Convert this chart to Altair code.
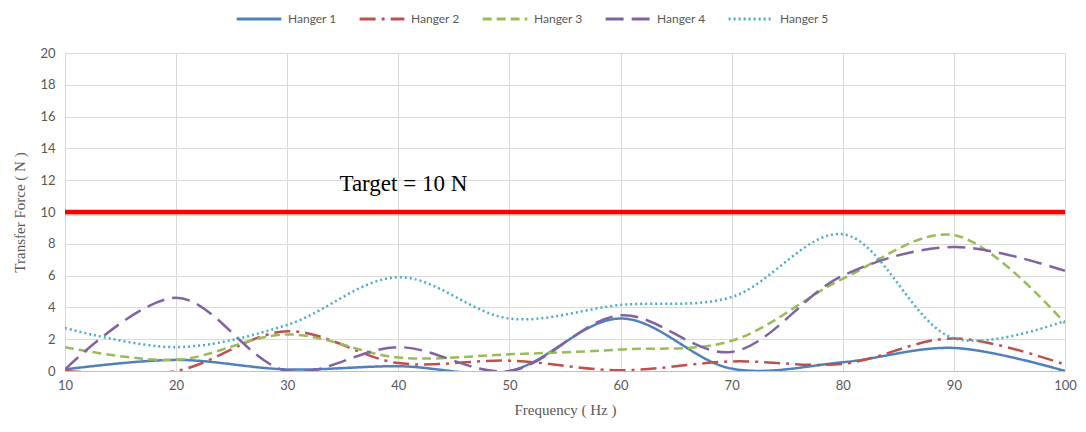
import altair as alt
import pandas as pd

freq = [10, 20, 30, 40, 50, 60, 70, 80, 90, 100]
hanger1 = [0.1, 0.7, 0.1, 0.3, 0.0, 3.3, 0.15, 0.55, 1.45, 0.0]
hanger2 = [0.0, 0.0, 2.5, 0.5, 0.65, 0.05, 0.6, 0.45, 2.05, 0.4]
hanger3 = [1.5, 0.7, 2.3, 0.85, 1.05, 1.35, 1.9, 5.8, 8.55, 3.0]
hanger4 = [0.1, 4.6, 0.0, 1.5, 0.0, 3.5, 1.2, 6.0, 7.8, 6.3]
hanger5 = [2.7, 1.5, 2.9, 5.9, 3.3, 4.15, 4.65, 8.6, 2.05, 3.15]
series_names = ["Hanger 1", "Hanger 2", "Hanger 3", "Hanger 4", "Hanger 5"]
series_colors = ["#4F81BD", "#C0504D", "#9BBB59", "#8064A2", "#4BACC6"]
series_dashes = [[1, 0], [16, 6, 3, 6], [9, 5], [18, 8], [2, 3]]
x_ticks = [10, 20, 30, 40, 50, 60, 70, 80, 90, 100]
y_ticks = [0, 2, 4, 6, 8, 10, 12, 14, 16, 18, 20]
target_value = 10
target_label = "Target = 10 N"

rows = []
for name, vals in zip(series_names, [hanger1, hanger2, hanger3, hanger4, hanger5]):
    for f, v in zip(freq, vals):
        rows.append({"Frequency": f, "Force": v, "Series": name})
df = pd.DataFrame(rows)

xscale = alt.Scale(domain=[10, 100], nice=False, zero=False)
yscale = alt.Scale(domain=[0, 20], nice=False)
xaxis = alt.Axis(values=x_ticks, title="Frequency ( Hz )")
yaxis = alt.Axis(values=y_ticks, title="Transfer Force ( N )")

legend_cfg = dict(title=None, orient="none", direction="horizontal",
                  legendX=170, legendY=-58, symbolType="stroke",
                  symbolSize=2000, symbolStrokeWidth=3,
                  labelFont="Lato", labelFontSize=12,
                  labelColor="#595959", columnPadding=16,
                  labelOffset=5, padding=0)

lines = alt.Chart(df).mark_line(
    interpolate="catmull-rom", strokeWidth=2.5, clip=True
).encode(
    x=alt.X("Frequency:Q", scale=xscale, axis=xaxis),
    y=alt.Y("Force:Q", scale=yscale, axis=yaxis),
    color=alt.Color("Series:N", scale=alt.Scale(domain=series_names, range=series_colors),
                    legend=alt.Legend(**legend_cfg)),
    strokeDash=alt.StrokeDash("Series:N",
                              scale=alt.Scale(domain=series_names, range=series_dashes),
                              legend=alt.Legend(**legend_cfg)),
)

target_df = pd.DataFrame({"Force": [target_value]})
shadow = alt.Chart(target_df).mark_rule(
    color="#888888", strokeWidth=4, opacity=0.3, yOffset=2
).encode(y=alt.Y("Force:Q", scale=yscale, axis=yaxis))
target = alt.Chart(target_df).mark_rule(color="#FF0000", strokeWidth=4.5).encode(
    y=alt.Y("Force:Q", scale=yscale, axis=yaxis)
)

label_df = pd.DataFrame({"Frequency": [34.7], "Force": [11.75], "Label": [target_label]})
label = alt.Chart(label_df).mark_text(
    align="left", baseline="middle", font="Liberation Serif", fontSize=23, color="#000000"
).encode(
    x=alt.X("Frequency:Q", scale=xscale, axis=xaxis),
    y=alt.Y("Force:Q", scale=yscale, axis=yaxis),
    text="Label:N",
)

chart = alt.layer(lines, shadow, target, label).properties(
    width=1000, height=318,
    autosize="none",
    padding={"left": 57, "top": 45, "right": 13, "bottom": 50},
).configure_view(stroke=None).configure_axis(
    gridColor="#D9D9D9", gridWidth=1, ticks=False,
    labelFont="Lato", labelFontSize=13, labelColor="#595959",
    labelOverlap=False, labelFlush=False, labelBound=False,
    titleFont="Liberation Serif", titleFontSize=15, titleColor="#595959",
    titleFontWeight="normal", domain=False,
).configure_axisX(
    domain=True, domainColor="#BFBFBF", labelPadding=8, titlePadding=10,
).configure_axisY(
    labelPadding=10, titlePadding=12,
)

chart.save("out.html", embed_options={"renderer": "svg", "actions": False})
